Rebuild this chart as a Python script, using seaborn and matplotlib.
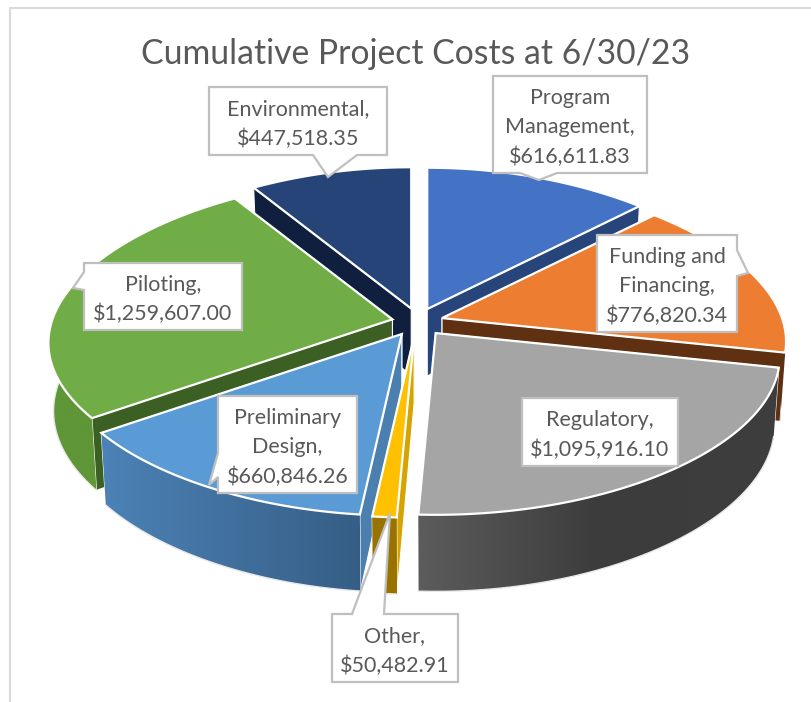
import numpy as np
import seaborn as sns
import matplotlib.pyplot as plt
from matplotlib.patches import Polygon

categories = ["Program\nManagement", "Funding and\nFinancing", "Regulatory", "Other",
              "Preliminary\nDesign", "Piloting", "Environmental"]
costs = [616611.83, 776820.34, 1095916.10, 50482.91, 660846.26, 1259607.00, 447518.35]
top_colors = ["#4472c4", "#ed7d31", "#a5a5a5", "#ffc000", "#5b9bd5", "#70ad47", "#264478"]
wall_colors = ["#27457a", "#5f3011", "#3a3a3a", "#d6a400", "#4a7fb0", "#3c5f23", "#0f1f3d"]
rim_colors = [["#27457a", "#27457a"], ["#5f3011", "#5f3011"], ["#5c5c5c", "#3c3c3c", "#3e3e3e"],
              ["#997300", "#997300"], ["#4c82b6", "#365e85"], ["#5f9637", "#5f9637"],
              ["#1a3057", "#1a3057"]]
title = "Cumulative Project Costs at 6/30/23"

# small sideways shift of each exploded slice
nudge = [0, 1, 3, -2, -4, -2, 0]

# callout box: left, top, right, bottom, then pointer base a, tip, pointer base b
callouts = [
    (493, 76, 647, 173, (520, 173), (539, 180), (557, 173)),
    (597, 235, 737, 332, (737, 250), (748, 273), (737, 276)),
    (522, 398, 678, 466, None, None, None),
    (332, 614, 458, 682, (352, 614), (390, 513), (384, 614)),
    (218, 396, 357, 493, (218, 453), (209, 485), (218, 477)),
    (84, 263, 242, 330, (84, 272), (73, 288), (84, 290)),
    (209, 87, 387, 155, (313, 155), (328, 177), (357, 155)),
]

CX, CY = 418, 322
RX, RY = 340, 159
EX, EY = 24, 14
PERSP = 0.125
DEPTH = 67
TXT = "#595959"


def project(theta, apex):
    u, v = np.sin(theta), np.cos(theta)
    s = 1 / (1 + PERSP * v)
    sx = 1 / (1 + 0.16 * v + 0.05 * v * v)
    return apex[0] + RX * u * sx, apex[1] - RY * v * s, s


def lower(x, y, s, apex):
    return apex[0] + (x - apex[0]) * 0.985, y + DEPTH * s


sns.set_theme(style="white")
plt.rcParams["font.family"] = ["Lato", "DejaVu Sans"]
fig, ax = plt.subplots(figsize=(8.12, 7.02), dpi=100)
ax.set_position([0, 0, 1, 1])
ax.axis("off")

# chart frame
ax.plot([10, 10, 812], [702, 8, 8], color="#d9d9d9", lw=1.5, zorder=0)

fracs = np.array(costs) / np.sum(costs)
edges = np.concatenate([[0], np.cumsum(fracs)]) * 2 * np.pi
mids = (edges[:-1] + edges[1:]) / 2

z = 1
for i in np.argsort(-np.cos(mids)):
    t0, t1 = edges[i], edges[i + 1]
    apex = (CX + EX * np.sin(mids[i]) + nudge[i], CY - EY * np.cos(mids[i]))
    apex_low = (apex[0], apex[1] + DEPTH)
    ts = np.linspace(t0, t1, max(int(np.degrees(t1 - t0) * 2), 8))
    xs, ys, ss = project(ts, apex)
    xb, yb = lower(xs, ys, ss, apex)

    # cut faces, the one nearer the viewer last
    order = (0, -1) if np.cos(t0) > np.cos(t1) else (-1, 0)
    for k in order:
        ax.fill([apex[0], xs[k], xb[k], apex_low[0]], [apex[1], ys[k], yb[k], apex_low[1]],
                color=wall_colors[i], ec="white", lw=0.8, zorder=z)
    z += 1

    # outer rim, shaded left to right
    front = np.cos(ts) < 0.25
    if front.sum() > 1:
        pal = sns.blend_palette(rim_colors[i], 200)
        rx, ry = xs[front], ys[front]
        bx, by = xb[front], yb[front]
        grad = np.array(pal)[None, :, :3]
        im = ax.imshow(grad, extent=(min(rx.min(), bx.min()), max(rx.max(), bx.max()),
                                     by.max(), ry.min()), aspect="auto", zorder=z)
        rim = Polygon(np.c_[np.r_[rx, bx[::-1]], np.r_[ry, by[::-1]]], closed=True,
                      transform=ax.transData)
        im.set_clip_path(rim)
        if np.cos(mids[i]) < 0.25:
            ax.plot(bx, by, color="#e8e8e8", lw=1, zorder=z)
    z += 1

    # top face
    ax.fill(np.r_[apex[0], xs], np.r_[apex[1], ys], fc=top_colors[i], ec="white", lw=1.6,
            joinstyle="miter", zorder=z)
    z += 1

for name, value, box in zip(categories, costs, callouts):
    l, t, r, b, a, tip, c = box
    if a is None:
        px, py = [l, r, r, l], [t, t, b, b]
    elif a[1] == t:
        px, py = [l, a[0], tip[0], c[0], r, r, l], [t, t, tip[1], t, t, b, b]
    elif a[1] == b:
        px, py = [l, r, r, c[0], tip[0], a[0], l], [t, t, b, b, tip[1], b, b]
    elif a[0] == r:
        px, py = [l, r, r, tip[0], r, r, l], [t, t, a[1], tip[1], c[1], b, b]
    else:
        px, py = [l, r, r, l, l, tip[0], l], [t, t, b, b, c[1], tip[1], a[1]]
    ax.fill(px, py, fc="white", ec="#bfbfbf", lw=1.6, joinstyle="miter", zorder=50)
    ax.text((l + r) / 2, (t + b) / 2 + 3, f"{name},\n${value:,.2f}", ha="center", va="center",
            fontsize=15.5, color=TXT, linespacing=1.55, zorder=51)

ax.text(416, 54, title, ha="center", va="center", fontsize=24.3, color=TXT, zorder=51)

ax.set_xlim(0, 812)
ax.set_ylim(702, 0)
fig.savefig("out.png", dpi=100)
